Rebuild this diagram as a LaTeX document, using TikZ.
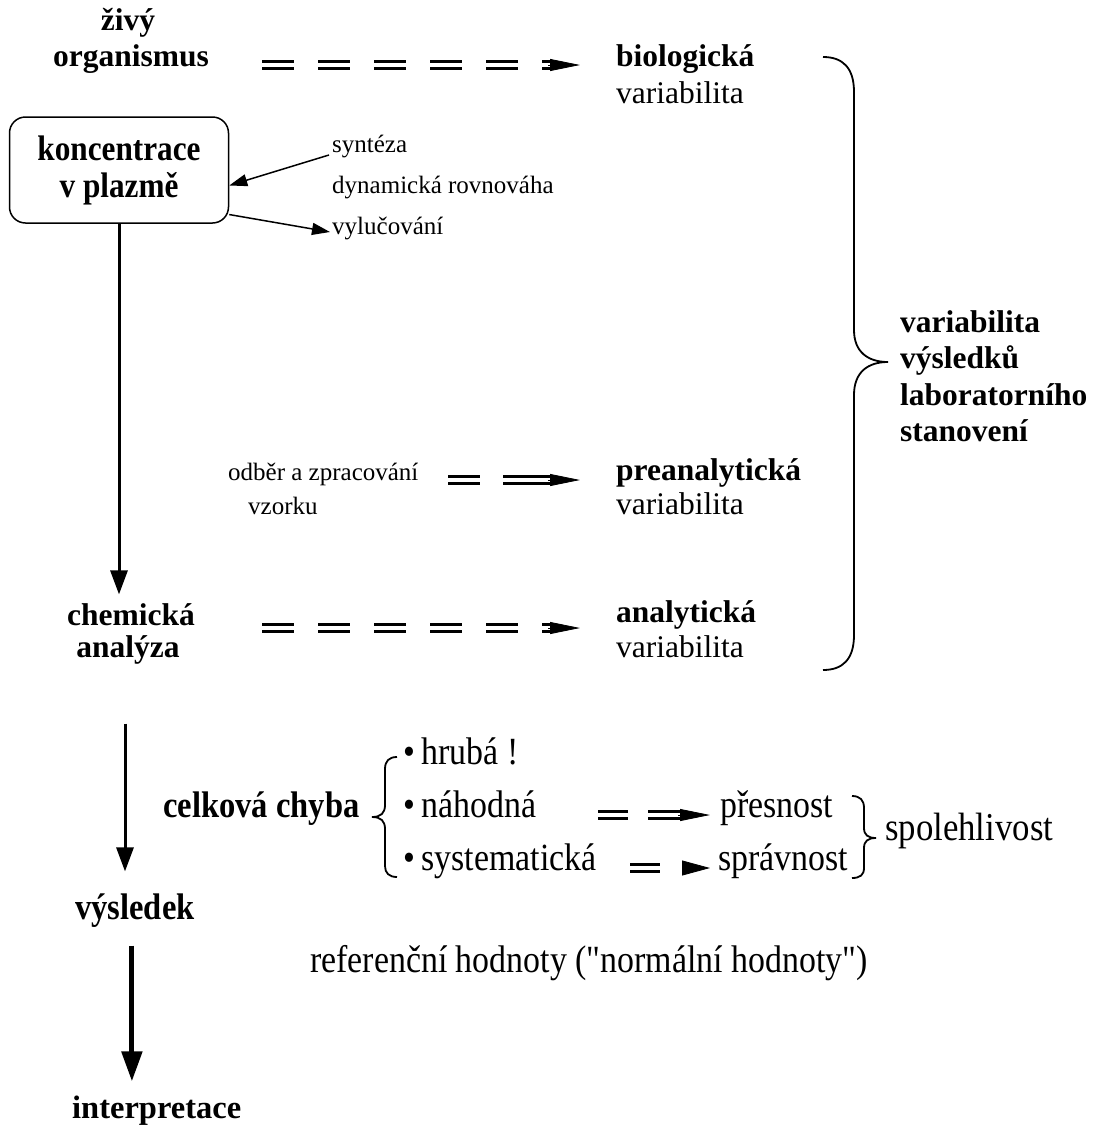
\documentclass[tikz,border=0pt]{standalone}
\usepackage{fontspec}
\setmainfont{Liberation Serif}
\newfontfamily\condfont{Liberation Serif}[FakeStretch=0.88]
\usetikzlibrary{arrows.meta}
\begin{document}
\begin{tikzpicture}[x=1pt,y=-1pt,
 txt/.style={inner sep=0pt, anchor=west, text height=0.68em, text depth=0.2em},
 bigb/.style={txt, font=\fontsize{31.5}{34}\selectfont\bfseries},
 cbig/.style={txt, font={\condfont\fontsize{37}{38}\selectfont\bfseries}},
 reg/.style={txt, font=\fontsize{31.5}{34}\selectfont},
 sml/.style={txt, font=\fontsize{25}{28}\selectfont},
 med/.style={txt, font={\condfont\fontsize{38.5}{40}\selectfont}},
 dbl/.style={double distance=3.4pt, line width=3.1pt, dash pattern=on 32pt off 24pt},
 headtip/.style={line width=0.8pt, -{Triangle[length=30pt,width=12pt]}},
 vline/.style={line width=3pt, -{Triangle[length=24pt,width=17pt]}},
 thinarrow/.style={line width=1.5pt, -{Triangle[length=18pt,width=12pt]}},
 bracestyle/.style={line width=1.8pt},
 boxstyle/.style={draw, line width=1.5pt, rounded corners=16pt, minimum width=219pt,
   minimum height=106pt, align=center, inner sep=0pt,
   font={\condfont\fontsize{35.5}{37}\selectfont\bfseries}}]
\useasboundingbox (0,0) rectangle (1096,1130);

% top row
\node[bigb, anchor=center] (ziv) at (128,28) {živý};
\node[bigb, anchor=center] (org) at (131,64) {organismus};
\node[bigb] (bio) at (616,64) {biologická};
\node[reg] (bvar) at (616,101) {variabilita};
\coordinate (a1) at (262,65);
\draw[dbl] (a1) -- ([xshift=-64pt]bio.west |- a1);
\draw[headtip] ([xshift=-68pt]bio.west |- a1) -- ([xshift=-36pt]bio.west |- a1);

% box
\node[boxstyle] (box) at (119,170) {koncentrace\\v plazmě};
\node[sml] (syn) at (332,150) {syntéza};
\node[sml] (dyn) at (332,191) {dynamická rovnováha};
\node[sml] (vyl) at (332,232) {vylučování};
\draw[thinarrow] ([xshift=-3pt,yshift=-5pt]syn.west) -- (box.-8);
\draw[thinarrow] (box.-22) -- ([xshift=-2pt]vyl.west);

% preanalytic
\node[sml] (odb) at (228,478) {odběr a zpracování};
\node[sml] (vzo) at (248,512) {vzorku};
\node[bigb] (pre) at (616,478) {preanalytická};
\node[reg] (pvar) at (616,512) {variabilita};
\coordinate (a2) at (448,480);
\draw[dbl, dash pattern=on 32pt off 23pt on 60pt] (a2) -- ([xshift=-64pt]pre.west |- a2);
\draw[headtip] ([xshift=-68pt]pre.west |- a2) -- ([xshift=-36pt]pre.west |- a2);

% analytic
\node[bigb, anchor=center] (chem) at (131,623) {chemická};
\node[bigb, anchor=center] (anal) at (128,655) {analýza};
\node[bigb] (ana) at (616,620) {analytická};
\node[reg] (avar) at (616,655) {variabilita};
\coordinate (a3) at (262,628);
\draw[dbl] (a3) -- ([xshift=-64pt]ana.west |- a3);
\draw[headtip] ([xshift=-68pt]ana.west |- a3) -- ([xshift=-36pt]ana.west |- a3);

\draw[vline, shorten >=24pt] (box.south) -- (box.south |- chem.north);

% big brace
\draw[bracestyle] (823,57) .. controls (843,57) and (854,68) .. (854,92) -- (854,330)
  .. controls (854,352) and (868,362) .. (888,362)
  .. controls (868,362) and (854,372) .. (854,395) -- (854,635)
  .. controls (854,659) and (843,670) .. (823,670);
\node[bigb] (vs1) at (900,330) {variabilita};
\node[bigb] (vs2) at (900,366) {výsledků};
\node[bigb] (vs3) at (900,403) {laboratorního};
\node[bigb] (vs4) at (900,439) {stanovení};

% error block
\node[cbig] (cel) at (163,815) {celková chyba};
\draw[bracestyle] (397,757) .. controls (389,757) and (385,761) .. (385,769) -- (385,805)
  .. controls (385,813) and (381,817) .. (372,817)
  .. controls (381,817) and (385,821) .. (385,829) -- (385,866)
  .. controls (385,873) and (389,877) .. (397,877);
\node[med] (hr) at (403,762) {•\,hrubá !};
\node[med] (nah) at (403,815) {•\,náhodná};
\node[med] (sys) at (403,868) {•\,systematická};
\node[med] (pres) at (720,815) {přesnost};
\node[med] (spr) at (718,868) {správnost};
\coordinate (a4) at (598,815);
\draw[dbl, dash pattern=on 30pt off 20pt on 40pt] (a4) -- ([xshift=-38pt]pres.west |- a4);
\draw[headtip] ([xshift=-42pt]pres.west |- a4) -- ([xshift=-10pt]pres.west |- a4);
\coordinate (a5) at (630,868);
\draw[dbl, dash pattern=on 30pt off 60pt] (a5) -- ([xshift=-56pt]spr.west |- a5);
\draw[line width=0.8pt, -{Triangle[length=28pt,width=15pt]}] ([xshift=-36pt]spr.west |- a5) -- ([xshift=-8pt]spr.west |- a5);
\draw[bracestyle] (852,796) .. controls (860,796) and (864,800) .. (864,808) -- (864,828)
  .. controls (864,835) and (868,838) .. (876,838)
  .. controls (868,838) and (864,841) .. (864,848) -- (864,868)
  .. controls (864,875) and (860,878) .. (852,878);
\node[med, font={\condfont\fontsize{39.5}{40}\selectfont}] (spol) at (885,838) {spolehlivost};

% result
\node[cbig] (vys) at (75,917) {výsledek};
\node[med] (ref) at (310,970) {\addfontfeature{Ligatures=TeXOff}referenční hodnoty ("normální hodnoty")};
\node[bigb, font=\fontsize{32.5}{34}\selectfont\bfseries] (interp) at (72,1116) {interpretace};
\draw[vline, shorten <=64pt, shorten >=41pt] ([xshift=-3pt]anal.south) -- ([xshift=-3pt]anal.south |- vys.north);
\draw[line width=5pt, -{Triangle[length=30pt,width=20pt]}, shorten <=24pt, shorten >=30pt]
  ([xshift=-3pt]vys.south) -- ([xshift=-3pt]vys.south |- interp.north);
\end{tikzpicture}
\end{document}
